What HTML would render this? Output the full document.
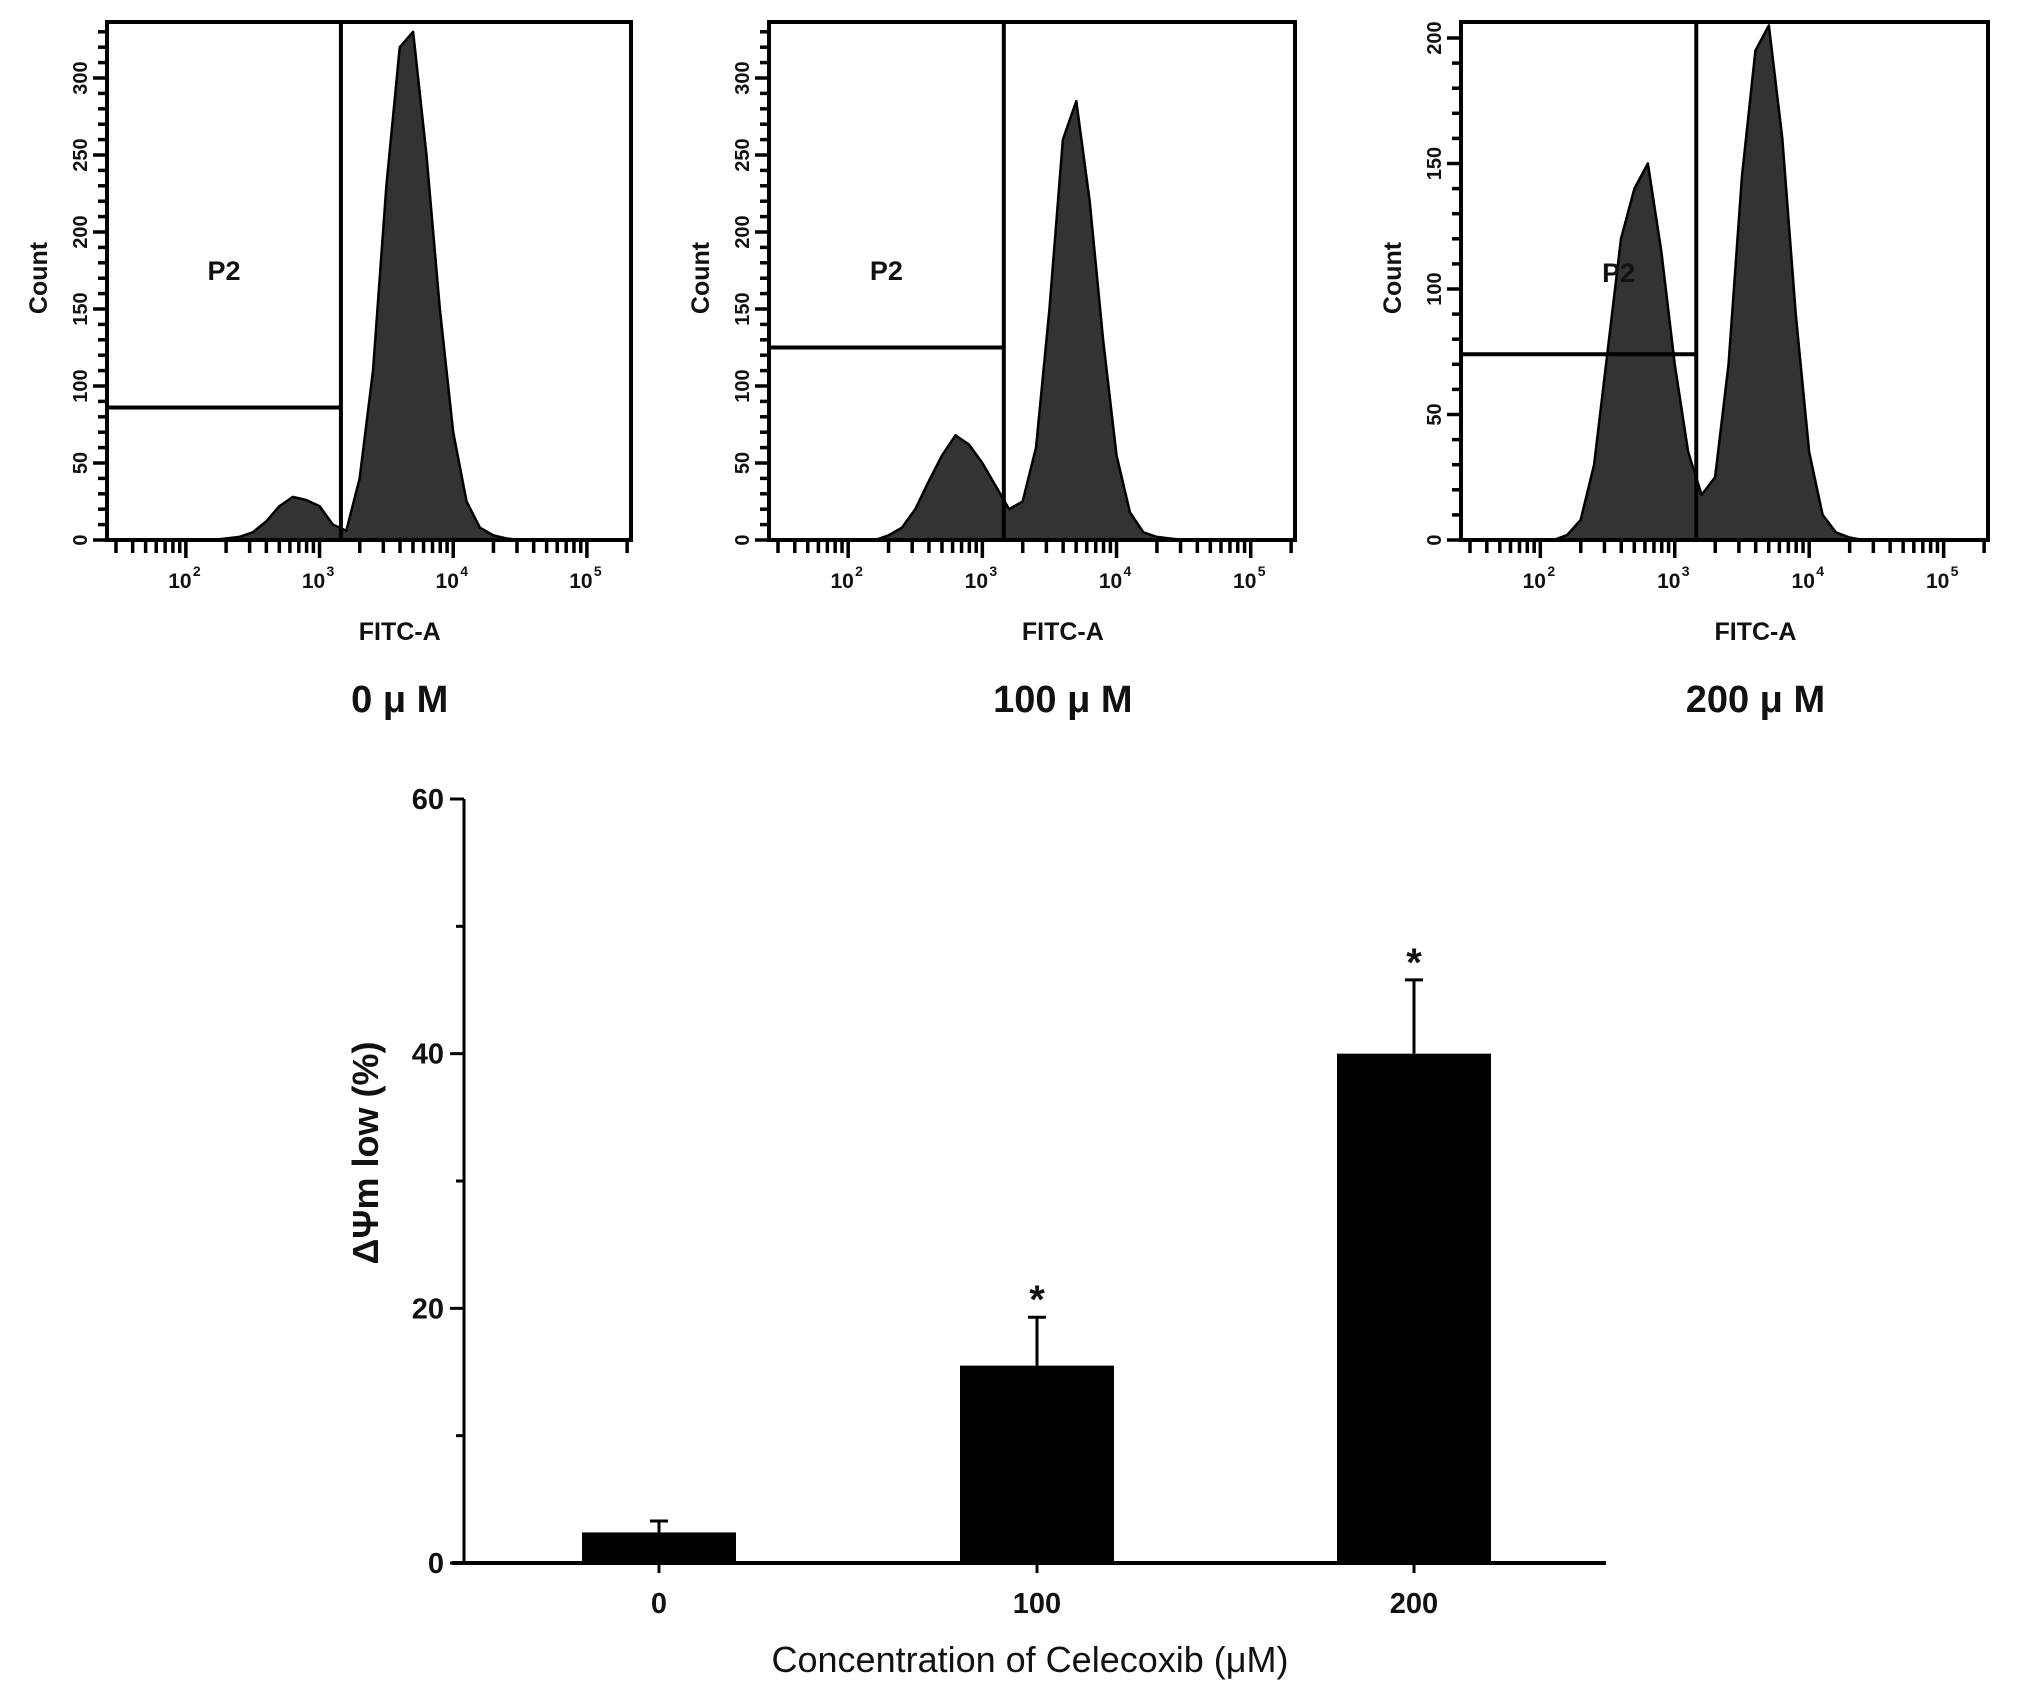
<!DOCTYPE html>
<html><head><meta charset="utf-8"><style>
html,body{margin:0;padding:0;background:#fff}
svg{display:block}
text{font-family:"Liberation Sans",sans-serif;fill:#111}
</style></head><body>
<svg id="fig" width="2031" height="1698" viewBox="0 0 2031 1698"></svg>
<script>
// ---------- data ----------
const histBinsLog = [1.5,1.6,1.7,1.8,1.9,2.0,2.1,2.2,2.3,2.4,2.5,2.6,2.7,2.8,2.9,3.0,3.1,3.2,3.3,3.4,3.5,3.6,3.7,3.8,3.9,4.0,4.1,4.2,4.3,4.4,4.5,4.6,4.7,4.8,4.9,5.0,5.1,5.2,5.3];
const hist0   = [0,0,0,0,0,0,0,0,1,2,5,12,22,28,26,22,10,6,40,110,230,320,330,250,150,70,25,8,3,1,0,0,0,0,0,0,0,0,0];
const hist100 = [0,0,0,0,0,0,0,0,3,8,20,38,55,68,62,50,35,20,25,60,150,260,285,220,130,55,18,5,2,1,0,0,0,0,0,0,0,0,0];
const hist200 = [0,0,0,0,0,0,0,2,8,30,75,120,140,150,115,70,35,18,25,70,145,195,205,160,90,35,10,3,1,0,0,0,0,0,0,0,0,0,0];
const panelLabels = ["0 \u03bc M","100 \u03bc M","200 \u03bc M"];
const gateLevels = [86,125,74];
const countMax = [350,350,210];
const countTicks = [[0,50,100,150,200,250,300],[0,50,100,150,200,250,300],[0,50,100,150,200]];
const barCats = ["0","100","200"];
const barVals = [2.4,15.5,40];
const barErr = [0.9,3.8,5.8];
const barSig = [false,true,true];
const yTicks = [0,20,40,60];

const svg = document.getElementById('fig');
const NS = 'http://www.w3.org/2000/svg';
function mk(tag, attrs, parent, txt){
  const e = document.createElementNS(NS, tag);
  for (const k in attrs) e.setAttribute(k, attrs[k]);
  if (txt !== undefined) e.textContent = txt;
  (parent||svg).appendChild(e);
  return e;
}

// ---------- histograms ----------
const panels = [{x0:107,x1:631,data:hist0},{x0:769,x1:1295,data:hist100},{x0:1461,x1:1988,data:hist200}];
const yTop = 22, yBot = 540, logMin = 1.41, logMax = 5.33;
panels.forEach((p,i)=>{
  const g = mk('g',{});
  
  
  const xs = v => p.x0 + (v-logMin)/(logMax-logMin)*(p.x1-p.x0);
  const pxPerCount = i===2 ? 2.51 : 1.54;
  const ys = c => yBot - c*pxPerCount;
  let d = 'M'+xs(histBinsLog[0])+','+yBot;
  histBinsLog.forEach((b,j)=>{
    d += ' L'+xs(b)+','+ys(p.data[j]);
  });
  d += ' L'+xs(histBinsLog[histBinsLog.length-1])+','+yBot+' Z';
  const area = mk('path',{d:d,fill:'#333',stroke:'#000','stroke-width':2.5,'stroke-linejoin':'round'},g);
  
  
  const box = mk('rect',{x:p.x0,y:yTop,width:p.x1-p.x0,height:yBot-yTop,fill:'none',stroke:'#000','stroke-width':4},g);
  
  
  const gx = xs(3.16);
  const gv = mk('line',{x1:gx,y1:yTop,x2:gx,y2:yBot,stroke:'#000','stroke-width':4},g);
  
  
  const gh = mk('line',{x1:p.x0,y1:ys(gateLevels[i]),x2:gx,y2:ys(gateLevels[i]),stroke:'#000','stroke-width':4},g);
  
  
  const pl = mk('text',{x:(p.x0+gx)/2+(i===2?40:0),y:i===2?282:280,'font-size':27,'font-weight':'bold','text-anchor':'middle'},g,'P2');
  
  
  for (let c=0;c<=countMax[i];c+=10){
    if (ys(c) < yTop) break;
    const major = c%50===0;
    mk('line',{x1:p.x0-(major?14:9),y1:ys(c),x2:p.x0,y2:ys(c),stroke:'#000','stroke-width':3.5},g);
  }
  countTicks[i].forEach(c=>{
    const t = mk('text',{x:0,y:0,'font-size':20,'font-weight':'bold','text-anchor':'middle',transform:'translate('+(p.x0-20)+','+ys(c)+') rotate(-90)'},g,String(c));
    
    
  });
  for (let dec=1; dec<=5; dec++){
    for (let m=1;m<=9;m++){
      const lv = dec+Math.log10(m);
      if (lv<logMin||lv>logMax) continue;
      mk('line',{x1:xs(lv),y1:yBot,x2:xs(lv),y2:yBot+(m===1?18:13),stroke:'#000','stroke-width':3.5},g);
    }
  }
  [2,3,4,5].forEach(dec=>{
    const t = mk('text',{x:xs(dec)-6,y:yBot+48,'font-size':21,'font-weight':'bold','text-anchor':'middle'},g,'10');
    
    
    mk('text',{x:xs(dec)+7,y:yBot+36,'font-size':14,'font-weight':'bold'},g,String(dec));
  });
  const xt = mk('text',{x:xs(3.6),y:640,'font-size':25,'font-weight':'bold','text-anchor':'middle'},g,'FITC-A');
  
  
  const yt = mk('text',{x:0,y:0,'font-size':25,'font-weight':'bold','text-anchor':'middle',transform:'translate('+(p.x0-60)+',278) rotate(-90)'},g,'Count');
  
  
  const cl = mk('text',{x:xs(3.6),y:712,'font-size':38,'font-weight':'bold','text-anchor':'middle'},g,panelLabels[i]);
  
  
});

// ---------- bar chart ----------
const bx0 = 464, bx1 = 1606, by0 = 1563, by60 = 799;
const yScale = v => by0 - v/60*(by0-by60);
const catX = [659, 1037, 1414];
const barW = 154;
const bc = mk('g',{});


barCats.forEach((c,i)=>{
  const cx = catX[i];
  const top = yScale(barVals[i]);
  const eTop = yScale(barVals[i]+barErr[i]);
  const el = mk('line',{x1:cx,y1:top,x2:cx,y2:eTop,stroke:'#000','stroke-width':3},bc);
  
  
  mk('line',{x1:cx-9,y1:eTop,x2:cx+9,y2:eTop,stroke:'#000','stroke-width':3},bc);
  const r = mk('rect',{x:cx-barW/2,y:top,width:barW,height:by0-top,fill:'#000'},bc);
  
  
  if (barSig[i]){
    const s = mk('text',{x:cx,y:eTop-4,'font-size':40,'font-weight':'bold','text-anchor':'middle'},bc,'*');
    
    
  }
  mk('line',{x1:cx,y1:by0,x2:cx,y2:by0+10,stroke:'#000','stroke-width':3},bc);
  const tl = mk('text',{x:cx,y:by0+50,'font-size':29,'font-weight':'bold','text-anchor':'middle'},bc,c);
  
  
});
const ax = mk('line',{x1:bx0,y1:by60,x2:bx0,y2:by0,stroke:'#000','stroke-width':3},bc);


const axx = mk('line',{x1:bx0-12,y1:by0,x2:bx1,y2:by0,stroke:'#000','stroke-width':4},bc);


for (let v=0; v<=60; v+=10){
  const major = v%20===0;
  mk('line',{x1:bx0-(major?14:8),y1:yScale(v),x2:bx0,y2:yScale(v),stroke:'#000','stroke-width':3},bc);
}
yTicks.forEach(v=>{
  const t = mk('text',{x:bx0-20,y:yScale(v)+10,'font-size':29,'font-weight':'bold','text-anchor':'end'},bc,String(v));
  
  
});
const bxt = mk('text',{x:1030,y:1672,'font-size':36,'text-anchor':'middle'},bc,'Concentration of Celecoxib (\u03bcM)');


const byt = mk('text',{x:0,y:0,'font-size':36,'font-weight':'bold','text-anchor':'middle',transform:'translate(378,1153) rotate(-90)'},bc,'\u0394\u03a8m low (%)');


</script>
</body></html>
